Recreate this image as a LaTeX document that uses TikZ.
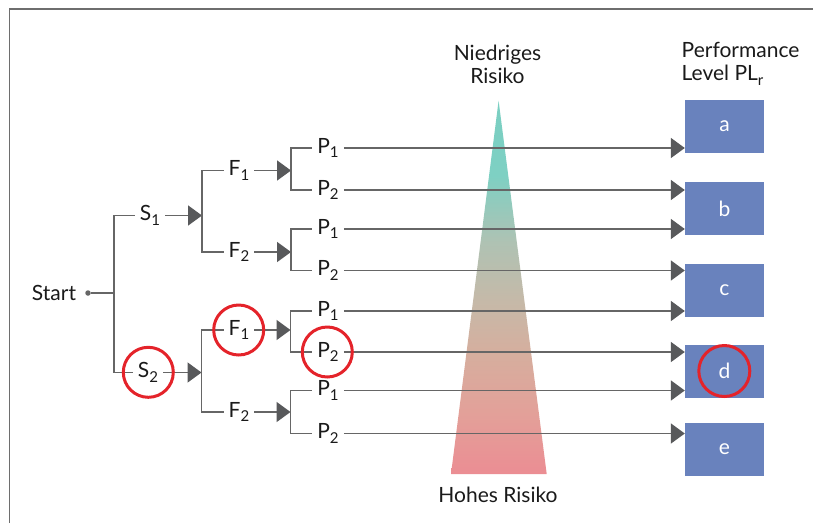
\documentclass[tikz,border=0pt]{standalone}
\usepackage{fontspec}
\setmainfont{Lato}
\usetikzlibrary{arrows.meta}

\definecolor{linegray}{HTML}{666666}
\definecolor{tipgray}{HTML}{58595B}
\definecolor{framegray}{HTML}{6E6E6E}
\definecolor{plblue}{HTML}{6982BD}
\definecolor{markred}{HTML}{E4232A}
\definecolor{inkblack}{HTML}{1A1A1A}
% risk wedge colours, from high to low risk
\definecolor{riskA}{HTML}{EB8D93}
\definecolor{riskB}{HTML}{E3A099}
\definecolor{riskC}{HTML}{D6AE9E}
\definecolor{riskD}{HTML}{C6B9A8}
\definecolor{riskE}{HTML}{AFC2B3}
\definecolor{riskF}{HTML}{7ED0C3}
\definecolor{riskG}{HTML}{7ACFC2}

\pgfdeclareverticalshading{riskgrad}{100bp}{%
  color(0bp)=(riskA); color(25bp)=(riskA); color(33bp)=(riskB);
  color(41bp)=(riskC); color(48bp)=(riskD); color(56bp)=(riskE);
  color(65bp)=(riskF); color(75bp)=(riskG); color(100bp)=(riskG)}

% lowered index, e.g. S_1, P_2, PL_r
\newcommand\lvl[1]{\raisebox{-0.45ex}{\fontsize{15}{15}\selectfont #1}}

\begin{document}
\begin{tikzpicture}[x=1pt,y=-1pt,
  font=\fontsize{21}{23}\selectfont,
  lbl/.style={inner xsep=5pt, inner ysep=0pt, text=inkblack},
  wire/.style={draw=linegray, line width=1.7pt},
  flow/.style={wire, -{Triangle[length=14pt,width=20pt,color=tipgray]}},
  plbox/.style={fill=plblue, text=white, minimum width=79pt, minimum height=52.7pt, inner sep=0pt},
  markcirc/.style={circle, draw=markred, line width=3pt, minimum size=50pt, inner sep=0pt},
  headline/.style={align=center, text=inkblack, inner sep=0pt}
]
\useasboundingbox (0,0) rectangle (813,523);

% frame
\draw[framegray, line width=1.5pt] (9.5,523) -- (9.5,9) -- (813,9);

% risk wedge
\shade[shading=riskgrad]
  (498.6,100.7) -- (546.7,474) -- (451,474) -- cycle;

% headings
\node[headline] (lowrisk) at (497.5,64) {Niedriges\\Risiko};
\node[headline] (highrisk) at (498,495) {Hohes Risiko};
\node[headline, align=left, anchor=west] (plhead) at (681.5,64) {Performance\\Level PL\lvl{r}};

% performance level boxes
\node[plbox] (pa) at (724.5,126.3) {a};
\node[plbox] (pb) at (724.5,208.5) {b};
\node[plbox] (pc) at (724.5,290.3) {c};
\node[plbox] (pd) at (724.5,371.3) {d};
\node[plbox] (pe) at (724.5,449.3) {e};

% start
\node[lbl] (start) at (54,293) {Start};
\node[circle, fill=linegray, inner sep=0pt, minimum size=5.5pt] (dot) at (88,293) {};
\coordinate (j0) at (114,293);

% severity
\node[lbl] (s1) at (150,215.5) {S\lvl{1}};
\node[lbl] (s2) at (148,372.5) {S\lvl{2}};
\coordinate (b1) at (202,215.5);
\coordinate (b2) at (201.5,372.5);

% frequency
\node[lbl] (f11) at (239,170.5) {F\lvl{1}};
\node[lbl] (f12) at (239,252) {F\lvl{2}};
\node[lbl] (f21) at (239,330) {F\lvl{1}};
\node[lbl] (f22) at (239,412) {F\lvl{2}};
\coordinate (b11) at (291,170.5);
\coordinate (b12) at (291,252);
\coordinate (b21) at (290.5,330);
\coordinate (b22) at (290.5,412);

% possibility of avoidance
\node[lbl] (p111) at (328,148) {P\lvl{1}};
\node[lbl] (p112) at (328,190) {P\lvl{2}};
\node[lbl] (p121) at (328,229) {P\lvl{1}};
\node[lbl] (p122) at (328,270.5) {P\lvl{2}};
\node[lbl] (p211) at (328,311) {P\lvl{1}};
\node[lbl] (p212) at (328,352) {P\lvl{2}};
\node[lbl] (p221) at (328,390.5) {P\lvl{1}};
\node[lbl] (p222) at (328,433.5) {P\lvl{2}};

% tree wiring
\draw[wire] (dot) -- (j0) |- (s1);
\draw[wire] (j0) |- (s2);
\draw[flow] (s1) -- (b1);
\draw[flow] (s2) -- (b2);
\draw[wire] (b1) |- (f11);
\draw[wire] (b1) |- (f12);
\draw[wire] (b2) |- (f21);
\draw[wire] (b2) |- (f22);
\draw[flow] (f11) -- (b11);
\draw[flow] (f12) -- (b12);
\draw[flow] (f21) -- (b21);
\draw[flow] (f22) -- (b22);
\draw[wire] (b11) |- (p111);
\draw[wire] (b11) |- (p112);
\draw[wire] (b12) |- (p121);
\draw[wire] (b12) |- (p122);
\draw[wire] (b21) |- (p211);
\draw[wire] (b21) |- (p212);
\draw[wire] (b22) |- (p221);
\draw[wire] (b22) |- (p222);

% outcomes
\draw[flow] (p111) -- (p111 -| pa.west);
\draw[flow] (p112) -- (p112 -| pb.west);
\draw[flow] (p121) -- (p121 -| pb.west);
\draw[flow] (p122) -- (p122 -| pc.west);
\draw[flow] (p211) -- (p211 -| pc.west);
\draw[flow] (p212) -- (p212 -| pd.west);
\draw[flow] (p221) -- (p221 -| pd.west);
\draw[flow] (p222) -- (p222 -| pe.west);

% highlighted path
\node[markcirc] (ms2) at (148.3,372.3) {};
\node[markcirc] (mf21) at (238.7,330) {};
\node[markcirc] (mp212) at (327.3,352) {};
\node[markcirc, minimum size=51pt] (mpd) at (724.3,371) {};
\end{tikzpicture}
\end{document}
